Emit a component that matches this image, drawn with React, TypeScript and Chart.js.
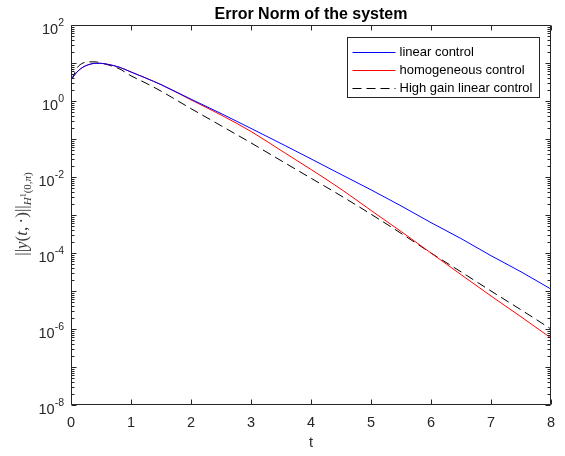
import React, { useEffect, useRef } from 'react';
import { Chart, registerables } from 'chart.js';

Chart.register(...registerables);

// ---- data ----
const T = [0, 0.05, 0.1, 0.2, 0.3, 0.4, 0.5, 0.6, 0.8, 1.0, 1.25, 1.5, 2, 2.5, 3, 3.5, 4, 4.5, 5, 5.5, 6, 6.5, 7, 7.5, 8];

const LINEAR_CONTROL = [3.55, 4.6, 5.8, 7.8, 9.1, 9.8, 9.8, 9.3, 7.8, 5.8, 4.0, 2.7, 1.12, 0.47, 0.19, 0.076, 0.030, 0.0117, 0.0046, 0.00174, 6.3e-4, 2.4e-4, 8.5e-5, 3.2e-5, 1.12e-5];

const HOMOGENEOUS_CONTROL = [3.55, 4.6, 5.8, 7.8, 9.1, 9.8, 9.8, 9.3, 7.8, 5.8, 4.0, 2.7, 1.07, 0.43, 0.158, 0.050, 0.0158, 0.0048, 0.00132, 3.7e-4, 1.0e-4, 2.7e-5, 7.4e-6, 2.1e-6, 5.8e-7];

const HIGH_GAIN_CONTROL = [3.55, 5.0, 7.4, 10.0, 10.7, 10.7, 10.0, 9.1, 7.1, 4.6, 2.95, 1.82, 0.63, 0.224, 0.079, 0.027, 0.0093, 0.0032, 0.00105, 3.3e-4, 1.0e-4, 3.2e-5, 1.0e-5, 3.2e-6, 1.0e-6];

const SERIES_LABELS = ['linear control', 'homogeneous control', 'High gain linear control'];
const X_TICKS = [0, 1, 2, 3, 4, 5, 6, 7, 8];
const Y_DECADES = [-8, -7, -6, -5, -4, -3, -2, -1, 0, 1, 2];
const Y_LABEL_EXPONENTS = [-8, -6, -4, -2, 0, 2];
const TITLE = 'Error Norm of the system';
const X_TITLE = 't';

// ---- styles ----
const AX = '#262626';
const SANS = '"Liberation Sans", Arial, Helvetica, sans-serif';
const SERIF = '"Liberation Serif", "DejaVu Serif", serif';
const COLORS = ['#0000ff', '#ff0000', '#000000'];
const DASHES: number[][] = [[], [], [9, 5]];

function drawRich(ctx: CanvasRenderingContext2D, segs: { t: string; f: string; dy: number }[], cx: number, cy: number) {
  let total = 0;
  const widths = segs.map((s) => {
    ctx.font = s.f;
    const w = ctx.measureText(s.t).width;
    total += w;
    return w;
  });
  ctx.save();
  ctx.translate(cx, cy);
  ctx.rotate(-Math.PI / 2);
  ctx.textAlign = 'left';
  ctx.textBaseline = 'alphabetic';
  let x = -total / 2;
  segs.forEach((s, i) => {
    ctx.font = s.f;
    ctx.fillText(s.t, x, s.dy);
    x += widths[i];
  });
  ctx.restore();
}

const matlabPlugin = {
  id: 'matlabAxes',
  afterDatasetsDraw(chart: any) {
    const ctx: CanvasRenderingContext2D = chart.ctx;
    const { left, right, top, bottom } = chart.chartArea;
    const xs = chart.scales.x;
    const ys = chart.scales.y;
    const L = Math.round(left) + 0.5;
    const R = Math.round(right) - 0.5;
    const TP = Math.round(top) + 0.5;
    const B = Math.round(bottom) - 0.5;
    ctx.save();
    ctx.strokeStyle = AX;
    ctx.lineWidth = 1;
    ctx.setLineDash([]);
    ctx.beginPath();
    ctx.rect(L, TP, R - L, B - TP);
    ctx.stroke();

    // x ticks
    ctx.beginPath();
    X_TICKS.forEach((v) => {
      const px = Math.round(xs.getPixelForValue(v)) + 0.5;
      ctx.moveTo(px, B);
      ctx.lineTo(px, B - 5);
      ctx.moveTo(px, TP);
      ctx.lineTo(px, TP + 5);
    });
    // y ticks (log)
    Y_DECADES.forEach((e) => {
      const kmax = e === Y_DECADES[Y_DECADES.length - 1] ? 1 : 9;
      for (let k = 1; k <= kmax; k++) {
        const v = k * Math.pow(10, e);
        const py = Math.round(ys.getPixelForValue(v)) + 0.5;
        const len = k === 1 ? 5 : 3;
        ctx.moveTo(L, py);
        ctx.lineTo(L + len, py);
        ctx.moveTo(R, py);
        ctx.lineTo(R - len, py);
      }
    });
    ctx.stroke();

    // x tick labels
    ctx.fillStyle = AX;
    ctx.font = `14.5px ${SANS}`;
    ctx.textAlign = 'center';
    ctx.textBaseline = 'alphabetic';
    X_TICKS.forEach((v) => {
      ctx.fillText(String(v), xs.getPixelForValue(v), bottom + 22);
    });

    // y tick labels 10^e
    Y_LABEL_EXPONENTS.forEach((e) => {
      const py = ys.getPixelForValue(Math.pow(10, e));
      const exp = String(e);
      ctx.font = `10.5px ${SANS}`;
      const wExp = ctx.measureText(exp).width;
      ctx.font = `14.5px ${SANS}`;
      const wBase = ctx.measureText('10').width;
      const xr = left - 7;
      ctx.textAlign = 'left';
      ctx.fillText('10', xr - wExp - wBase, py + 9);
      ctx.font = `10.5px ${SANS}`;
      ctx.fillText(exp, xr - wExp, py + 1);
    });

    // x axis title
    ctx.font = `14.5px ${SANS}`;
    ctx.textAlign = 'center';
    ctx.fillText(X_TITLE, (left + right) / 2, bottom + 42);

    // title
    ctx.fillStyle = '#000';
    ctx.font = `bold 16px ${SANS}`;
    ctx.fillText(TITLE, (left + right) / 2, 19);

    // y axis label (TeX-like)
    ctx.fillStyle = '#3a3a3a';
    const main = `17px ${SERIF}`;
    const mainI = `italic 17px ${SERIF}`;
    const sub = `11px ${SERIF}`;
    const subI = `italic 11px ${SERIF}`;
    const sup = `8px ${SERIF}`;
    drawRich(
      ctx,
      [
        { t: '||', f: main, dy: 0 },
        { t: 'y', f: mainI, dy: 0 },
        { t: '(', f: main, dy: 0 },
        { t: 't', f: mainI, dy: 0 },
        { t: ',\u2009\u00b7)', f: main, dy: 0 },
        { t: '||', f: main, dy: 0 },
        { t: 'H', f: subI, dy: 4 },
        { t: '1', f: sup, dy: -1 },
        { t: '(0,', f: sub, dy: 4 },
        { t: '\u03c0', f: subI, dy: 4 },
        { t: ')', f: sub, dy: 4 },
      ],
      27,
      (top + bottom) / 2 - 1
    );

    // legend
    const bx = Math.round(right - 12 - 192) + 0.5;
    const by = Math.round(top + 12) + 0.5;
    ctx.fillStyle = '#fff';
    ctx.fillRect(bx, by, 192, 60);
    ctx.strokeStyle = AX;
    ctx.lineWidth = 1;
    ctx.strokeRect(bx, by, 192, 60);
    chart.data.datasets.forEach((ds: any, i: number) => {
      const y = Math.round(by + 14 + i * 18) + 0.5;
      ctx.strokeStyle = ds.borderColor;
      ctx.setLineDash(ds.borderDash || []);
      ctx.beginPath();
      ctx.moveTo(bx + 5, y);
      ctx.lineTo(bx + 48, y);
      ctx.stroke();
      ctx.setLineDash([]);
      ctx.fillStyle = '#000';
      ctx.font = `13px ${SANS}`;
      ctx.textAlign = 'left';
      ctx.textBaseline = 'middle';
      ctx.fillText(ds.label, bx + 52, y);
    });
    ctx.restore();
  },
};

export default function App() {
  const ref = useRef<HTMLCanvasElement>(null);
  useEffect(() => {
    if (!ref.current) return;
    const series = [LINEAR_CONTROL, HOMOGENEOUS_CONTROL, HIGH_GAIN_CONTROL];
    const chart = new Chart(ref.current, {
      type: 'line',
      data: {
        datasets: series.map((vals, i) => ({
          label: SERIES_LABELS[i],
          data: T.map((t, j) => ({ x: t, y: vals[j] })),
          borderColor: COLORS[i],
          borderWidth: 1,
          borderDash: DASHES[i],
          pointRadius: 0,
          fill: false,
          cubicInterpolationMode: 'monotone' as const,
        })),
      },
      options: {
        animation: false,
        responsive: true,
        maintainAspectRatio: false,
        layout: { padding: { left: 71, right: 14, top: 25, bottom: 51 } },
        scales: {
          x: { type: 'linear', min: 0, max: 8, display: false },
          y: { type: 'logarithmic', min: 1e-8, max: 100, display: false },
        },
        plugins: {
          legend: { display: false },
          tooltip: { enabled: false },
          title: { display: false },
        },
      },
      plugins: [matlabPlugin],
    });
    return () => chart.destroy();
  }, []);
  return (
    <div style={{ position: 'absolute', left: 0, top: 0, width: 565, height: 456, background: '#fff' }}>
      <canvas ref={ref} />
    </div>
  );
}
